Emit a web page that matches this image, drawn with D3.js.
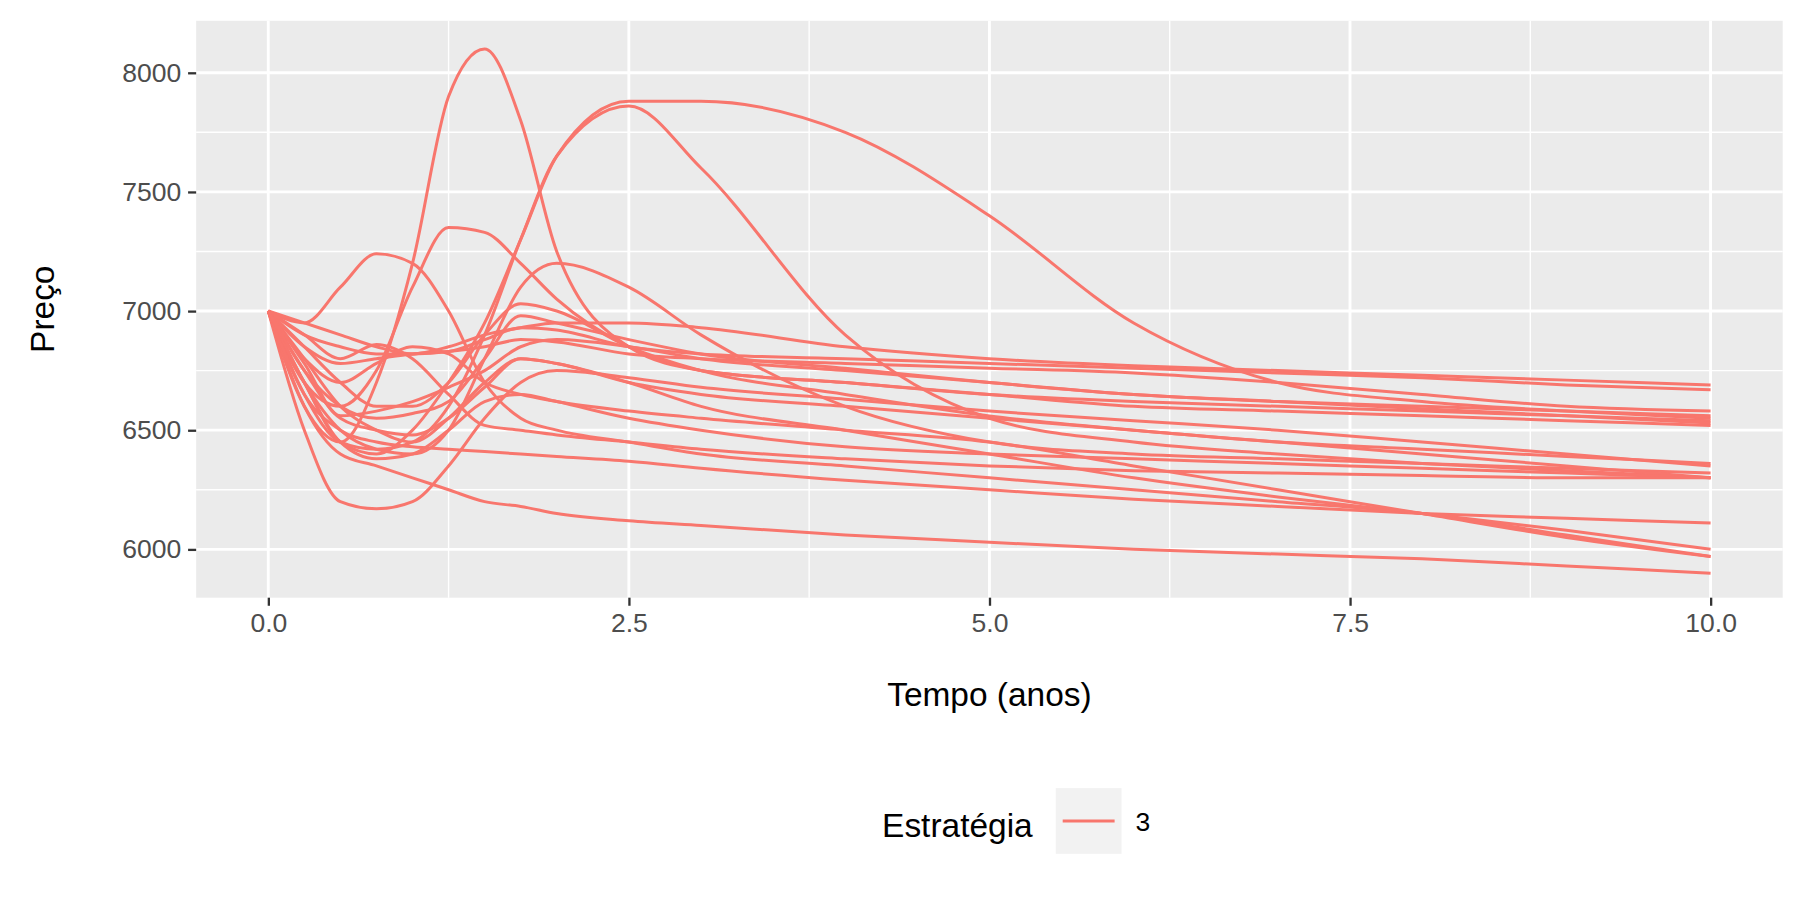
<!DOCTYPE html>
<html><head><meta charset="utf-8">
<script src="https://cdn.jsdelivr.net/npm/d3@7"></script>
<style>body{margin:0;background:#fff}</style>
</head><body>
<script>
var tempo = [0,0.25,0.5,0.75,1,1.25,1.5,1.75,2,2.5,3,4,5,6,7,8,9,10];
var series = [
  [7000,6600,6450,6700,7200,7900,8100,7800,7250,6850,6750,6700,6650,6600,6580,6560,6540,6520],
  [7000,6700,6450,6400,6500,6700,6950,7300,7650,7880,7880,7750,7400,6950,6700,6620,6580,6550],
  [7000,6650,6450,6420,6450,6600,6900,7300,7650,7860,7600,6900,6550,6450,6400,6360,6330,6300],
  [7000,6950,7100,7240,7200,7000,6700,6550,6500,6450,6400,6350,6300,6250,6200,6150,6060,5970],
  [7000,6700,6600,6750,7100,7350,7330,7200,7050,6850,6750,6700,6650,6620,6600,6580,6560,6540],
  [7000,6700,6500,6420,6400,6500,6800,7100,7200,7100,6900,6600,6450,6400,6380,6360,6340,6320],
  [7000,6500,6200,6170,6200,6350,6550,6700,6750,6720,6680,6630,6580,6540,6500,6450,6400,6350],
  [7000,6600,6400,6350,6300,6250,6200,6180,6150,6120,6100,6060,6030,6000,5980,5960,5930,5900],
  [7000,6650,6500,6450,6430,6420,6410,6400,6390,6370,6340,6290,6250,6210,6180,6150,6130,6110],
  [7000,6900,6850,6820,6820,6850,6900,6930,6950,6950,6930,6850,6800,6770,6750,6730,6710,6690],
  [7000,6950,6900,6850,6820,6830,6880,6930,6920,6850,6820,6800,6780,6760,6740,6720,6690,6670],
  [7000,6850,6700,6600,6600,6700,6900,7030,7000,6850,6750,6650,6560,6500,6450,6400,6350,6300],
  [7000,6800,6600,6500,6450,6550,6700,6800,6780,6700,6600,6500,6400,6300,6220,6150,6080,6000],
  [7000,6750,6550,6500,6480,6550,6680,6800,6780,6700,6650,6600,6550,6500,6450,6420,6390,6360],
  [7000,6700,6450,6380,6400,6500,6620,6650,6620,6550,6500,6430,6400,6380,6360,6340,6320,6300],
  [7000,6800,6700,6780,6850,6820,6700,6650,6620,6580,6550,6500,6450,6350,6250,6150,6050,5970],
  [7000,6850,6780,6800,6820,6830,6850,6880,6870,6820,6800,6780,6760,6740,6700,6650,6600,6580],
  [7000,6780,6560,6580,6620,6680,6750,6850,6880,6850,6800,6750,6700,6650,6620,6600,6580,6560],
  [7000,6900,6800,6860,6800,6650,6520,6500,6480,6450,6420,6380,6350,6330,6320,6310,6300,6300],
  [7000,6750,6600,6550,6570,6620,6800,6980,6950,6880,6820,6760,6700,6650,6620,6590,6560,6530]
];
var xTicks = [0,2.5,5,7.5,10];
var xMinor = [1.25,3.75,6.25,8.75];
var yTicks = [6000,6500,7000,7500,8000];
var yMinor = [6250,6750,7250,7750];
var cor = "#F8766D";

var L = 170, R = 1545, T = 18, B = 518;
var svg = d3.select("body").append("svg").attr("width",1800).attr("height",900)
  .attr("viewBox","0 0 1560 780")
  .style("font-family","'Liberation Sans', Arial, sans-serif");
var x = d3.scaleLinear().domain([-0.5,10.5]).range([L,R]);
var y = d3.scaleLinear().domain([5797,8218]).range([B,T]);

svg.append("rect").attr("x",L).attr("y",T).attr("width",R-L).attr("height",B-T).attr("fill","#EBEBEB");
var g = svg.append("g");
xMinor.forEach(function(v){ g.append("line").attr("x1",x(v)).attr("x2",x(v)).attr("y1",T).attr("y2",B).attr("stroke","#fff").attr("stroke-width",1.2); });
yMinor.forEach(function(v){ g.append("line").attr("y1",y(v)).attr("y2",y(v)).attr("x1",L).attr("x2",R).attr("stroke","#fff").attr("stroke-width",1.2); });
xTicks.forEach(function(v){ g.append("line").attr("x1",x(v)).attr("x2",x(v)).attr("y1",T).attr("y2",B).attr("stroke","#fff").attr("stroke-width",2.5); });
yTicks.forEach(function(v){ g.append("line").attr("y1",y(v)).attr("y2",y(v)).attr("x1",L).attr("x2",R).attr("stroke","#fff").attr("stroke-width",2.5); });

var line = d3.line().x(function(d,i){ return x(tempo[i]); }).y(function(d){ return y(d); }).curve(d3.curveMonotoneX);
svg.append("g").selectAll("path").data(series).enter().append("path")
  .attr("d", line).attr("fill","none").attr("stroke",cor).attr("stroke-width",2.6);

var xa = svg.append("g").attr("transform","translate(0,"+B+")")
  .call(d3.axisBottom(x).tickValues(xTicks).tickFormat(d3.format(".1f")).tickSize(7).tickPadding(6));
var ya = svg.append("g").attr("transform","translate("+L+",0)")
  .call(d3.axisLeft(y).tickValues(yTicks).tickFormat(d3.format("d")).tickSize(7).tickPadding(6));
[xa,ya].forEach(function(a){
  a.select(".domain").remove();
  a.selectAll(".tick line").attr("stroke","#333").attr("stroke-width",2);
  a.selectAll("text").attr("fill","#4D4D4D").style("font-size","23px");
});

svg.append("text").attr("x",(L+R)/2).attr("y",612).attr("text-anchor","middle").style("font-size","29px").text("Tempo (anos)");
svg.append("text").attr("transform","translate(47,"+((T+B)/2)+") rotate(-90)").attr("text-anchor","middle").style("font-size","29px").text("Preço");

svg.append("text").attr("x",895).attr("y",725).attr("text-anchor","end").style("font-size","29px").text("Estratégia");
svg.append("rect").attr("x",915).attr("y",683).attr("width",57).attr("height",57).attr("fill","#F2F2F2");
svg.append("line").attr("x1",921).attr("x2",966).attr("y1",711.5).attr("y2",711.5).attr("stroke",cor).attr("stroke-width",2.6);
svg.append("text").attr("x",984).attr("y",720).style("font-size","23px").text("3");
</script>
</body></html>
